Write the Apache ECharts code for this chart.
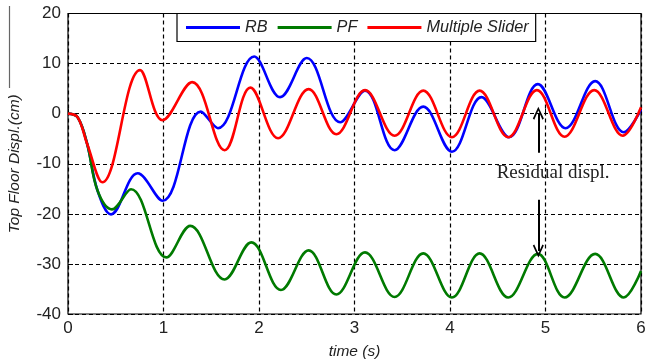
<!DOCTYPE html>
<html><head><meta charset="utf-8">
<script src="https://cdn.jsdelivr.net/npm/echarts@6/dist/echarts.min.js"></script>
<style>html,body{margin:0;padding:0;background:#fff}#c{width:645px;height:363px}</style>
</head><body><div id="c"></div>
<script>
// ---- data (time in s, top floor displacement in cm), read at the turning points ----
const rbTime = [0,0.1,0.2,0.31,0.45,0.73,0.99,1.39,1.57,1.95,2.22,2.50,2.85,3.11,3.42,3.72,4.02,4.33,4.62,4.92,5.21,5.52,5.82,6.0];
const rbDisp = [0,-0.7,-6.0,-15.4,-20.1,-11.9,-17.4,0.4,-2.9,11.4,3.3,11.1,-1.7,4.6,-7.3,1.4,-7.6,3.3,-4.7,5.9,-2.9,6.5,-3.7,0.8];

const pfTime = [0,0.1,0.2,0.31,0.46,0.66,1.03,1.28,1.64,1.92,2.23,2.52,2.81,3.11,3.42,3.72,4.02,4.31,4.61,4.92,5.20,5.52,5.82,6.0];
const pfDisp = [0,-0.7,-6.0,-15.4,-19.1,-15.1,-28.7,-22.4,-33.1,-25.7,-35.2,-27.3,-36.1,-27.7,-36.6,-27.9,-36.7,-27.9,-36.7,-28.0,-36.7,-28.0,-36.7,-31.4];

const msTime = [0,0.1,0.2,0.36,0.754,0.99,1.30,1.64,1.91,2.20,2.52,2.81,3.11,3.42,3.72,4.02,4.31,4.61,4.91,5.20,5.51,5.81,6.0];
const msDisp = [0,-0.7,-6.0,-13.7,8.7,-1.3,6.3,-7.3,5.2,-4.9,4.9,-4.1,4.7,-4.4,4.6,-4.7,4.6,-4.7,4.7,-4.6,4.7,-4.4,1.3];

const seriesNames = ['RB','PF','Multiple Slider'];
const xRange = [0, 6, 1];      // min, max, interval
const yRange = [-40, 20, 10];
// annotation: arrows (time, from, to) and label position
const arrowUp = [4.925, -7.8, 0.1];
const arrowDown = [4.925, -17.2, -27.4];
const noteText = 'Residual displ.';
const notePos = [5.08, -11.8];

function zip(t, v) { return t.map((x, i) => [x, v[i]]); }

const chart = echarts.init(document.getElementById('c'));
const chevron = 'path://M0,10 L5,0 L10,10 L8.7,10.9 L5,3.3 L1.3,10.9 Z';
const sans = '"Liberation Sans", Arial, sans-serif';
const SMOOTH = 0.38;

const axisCommon = {
  type: 'value',
  axisLine: { show: false },
  axisTick: { show: true, inside: true, length: 5, lineStyle: { color: '#000', width: 1 } },
  splitLine: { show: true, lineStyle: { color: '#000', type: [4, 3], width: 1.2 } },
  axisLabel: { color: '#222', fontSize: 17, fontFamily: sans },
  nameLocation: 'middle',
  nameTextStyle: { fontStyle: 'italic', fontSize: 15.5, color: '#222', fontFamily: sans }
};

chart.setOption({
  animation: false,
  backgroundColor: '#fff',
  grid: { left: 68, right: 4, top: 13.5, bottom: 49, show: true, borderColor: '#000', borderWidth: 1.2,
          backgroundColor: 'transparent', outerBoundsMode: 'none', containLabel: false },
  graphic: [{ type: 'line', shape: { x1: 9.5, y1: 6, x2: 9.5, y2: 88 }, style: { stroke: '#666', lineWidth: 1.2 }, silent: true }],
  legend: {
    left: 177, top: 13.5,
    data: seriesNames,
    icon: 'rect', itemWidth: 54, itemHeight: 3, itemGap: 10,
    backgroundColor: '#fff', borderColor: '#000', borderWidth: 1.2,
    padding: [6, 7, 6, 9],
    textStyle: { fontStyle: 'italic', fontSize: 16.3, lineHeight: 16, color: '#222', fontFamily: sans }
  },
  xAxis: Object.assign({}, axisCommon, {
    min: xRange[0], max: xRange[1], interval: xRange[2],
    name: 'time (s)', nameGap: 30,
    axisLabel: Object.assign({}, axisCommon.axisLabel, { margin: 6 })
  }),
  yAxis: Object.assign({}, axisCommon, {
    min: yRange[0], max: yRange[1], interval: yRange[2],
    name: 'Top Floor Displ.(cm)', nameGap: 45,
    axisLabel: Object.assign({}, axisCommon.axisLabel, { margin: 7 })
  }),
  series: [
    { name: seriesNames[0], type: 'line', data: zip(rbTime, rbDisp), smooth: SMOOTH, showSymbol: false,
      lineStyle: { color: '#0000ff', width: 2.6 }, itemStyle: { color: '#0000ff' }, z: 2 },
    { name: seriesNames[1], type: 'line', data: zip(pfTime, pfDisp), smooth: SMOOTH, showSymbol: false,
      lineStyle: { color: '#007a00', width: 2.6 }, itemStyle: { color: '#007a00' }, z: 3 },
    { name: seriesNames[2], type: 'line', data: zip(msTime, msDisp), smooth: SMOOTH, showSymbol: false,
      lineStyle: { color: '#ff0000', width: 2.6 }, itemStyle: { color: '#ff0000' }, z: 4,
      markLine: {
        silent: true, animation: false,
        symbol: ['none', chevron], symbolSize: [11, 13],
        lineStyle: { color: '#000', width: 2, type: 'solid' },
        label: { show: false },
        data: [
          [{ coord: [arrowUp[0], arrowUp[1]] }, { coord: [arrowUp[0], arrowUp[2]] }],
          [{ coord: [arrowDown[0], arrowDown[1]] }, { coord: [arrowDown[0], arrowDown[2]] }]
        ]
      },
      markPoint: {
        silent: true, animation: false,
        symbol: 'rect', symbolSize: [1, 1], itemStyle: { color: 'rgba(0,0,0,0)' },
        label: { show: true, position: 'inside', formatter: noteText, color: '#222', fontSize: 19,
                 fontFamily: '"Liberation Serif", "Times New Roman", serif' },
        data: [{ coord: notePos }]
      }
    }
  ]
});
</script></body></html>
